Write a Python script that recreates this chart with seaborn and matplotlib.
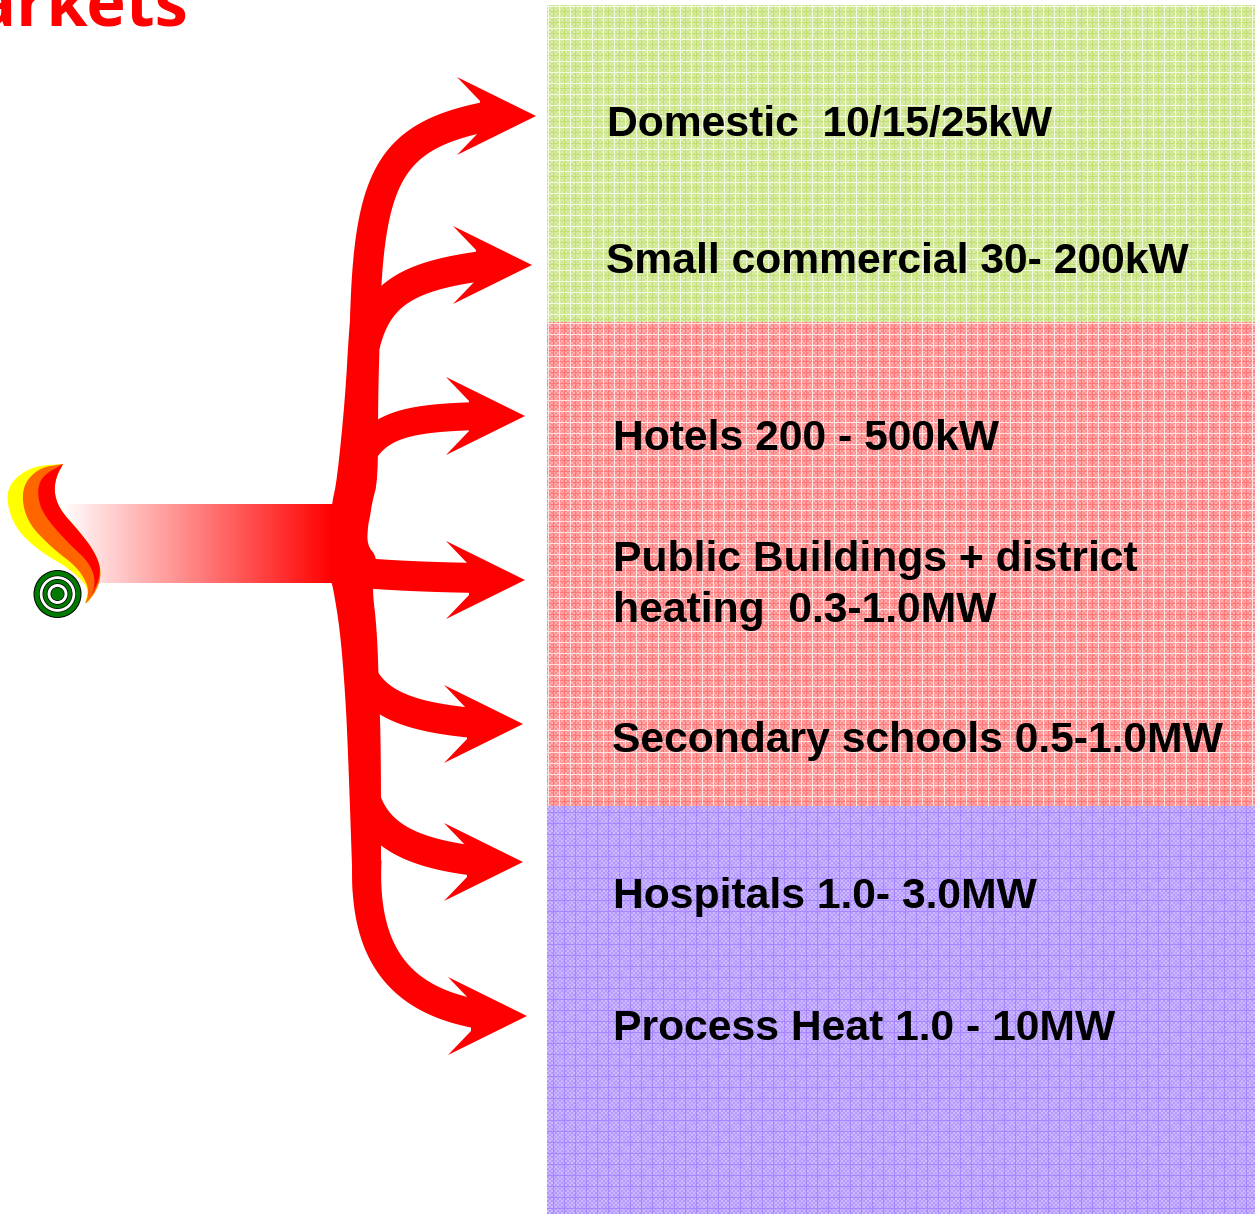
"""Biomass markets diagram: flame, red branching arrows, three market bands."""

import numpy as np
import matplotlib
matplotlib.use("Agg")
import matplotlib.pyplot as plt
from matplotlib.colors import LinearSegmentedColormap
from matplotlib.patches import Circle
import seaborn as sns

W, H = 1255, 1214

# market labels, first baseline
labels = [
    "Domestic  10/15/25kW",
    "Small commercial 30- 200kW",
    "Hotels 200 - 500kW",
    "Public Buildings + district",
    "heating  0.3-1.0MW",
    "Secondary schools 0.5-1.0MW",
    "Hospitals 1.0- 3.0MW",
    "Process Heat 1.0 - 10MW",
]
label_x = [607, 606, 613, 613, 613, 612, 613, 613]
label_y = [136, 273, 450, 571, 622, 752, 908, 1040]

# bands: top, bottom, colour of the weave, light or dark cross lines
band_top = [5, 322, 806]
band_bottom = [322, 806, 1214]
band_color = ["#a4d030", "#ff3030", "#7a48ff"]
band_light_lines = [True, True, False]

# arrow tips
tip_x = [536, 532, 525, 525, 523, 523, 527]
tip_y = [116, 265, 416, 580, 724, 862, 1016]
# shaft beziers: start, control 1, control 2, end
shaft_x = [
    [365, 369, 390, 490],
    [365, 378, 410, 490],
    [358, 376, 405, 480],
    [350, 385, 420, 480],
    [358, 372, 410, 485],
    [366, 380, 420, 485],
    [367, 362, 410, 490],
]
shaft_y = [
    [320, 175, 135, 116],
    [345, 292, 275, 265],
    [462, 425, 418, 416],
    [572, 575, 577, 578],
    [665, 705, 718, 724],
    [800, 840, 855, 862],
    [860, 965, 1005, 1016],
]
shaft_px = [30, 30, 28, 30, 30, 30, 29]

# main stem outline
stem_y = [300, 330, 400, 480, 503, 517, 525, 545, 557, 582, 587, 630, 690, 750, 895]
stem_left = [352, 349, 345, 337, 332, 331, 331, 331, 331, 331, 333, 340, 345, 348, 353]
stem_right = [380, 380, 378, 378, 372, 370, 368, 367, 377, 376, 372, 377, 379, 381, 381]

# flame, each outline starts at the tip
flame_colors = ["#ffff00", "#ff6600", "#ff0000"]
flame_x = [
    [63, 33, 11, 6, 15, 39, 67, 85, 88, 84, 96, 102, 95, 78, 60, 54, 56, 63],
    [63, 38, 21, 26, 52, 77, 88, 88, 84, 96, 102, 95, 78, 60, 54, 56, 63],
    [63, 42, 37, 42, 66, 90, 96, 90, 102, 95, 78, 60, 54, 56, 63],
]
flame_y = [
    [464, 466, 481, 500, 528, 551, 567, 583, 593, 606, 592, 573, 552, 530, 510, 493, 477, 464],
    [464, 468, 488, 521, 548, 567, 585, 597, 606, 592, 573, 552, 530, 510, 493, 477, 464],
    [464, 476, 492, 513, 541, 563, 583, 599, 573, 552, 530, 510, 493, 477, 464],
]

target_radius = [24, 23, 18.5, 17.8, 15, 14.3, 10.8, 10, 7, 6.3]
target_color = ["black", "#007a00", "black", "white", "black", "#007a00", "black", "white", "black", "#007a00"]


def bezier(px, py, n=60):
    t = np.linspace(0, 1, n)[:, None]
    pts = np.column_stack([px, py])
    return ((1 - t) ** 3 * pts[0] + 3 * (1 - t) ** 2 * t * pts[1]
            + 3 * (1 - t) * t ** 2 * pts[2] + t ** 3 * pts[3])


def chaikin(x, y, rounds=3):
    pts = np.column_stack([x, y]).astype(float)
    for _ in range(rounds):
        q = 0.75 * pts[:-1] + 0.25 * pts[1:]
        r = 0.25 * pts[:-1] + 0.75 * pts[1:]
        mid = np.empty((2 * len(q), 2))
        mid[0::2] = q
        mid[1::2] = r
        pts = np.vstack([pts[0], mid, pts[-1]])
    return pts[:, 0], pts[:, 1]


def weave(h, w, light_lines):
    """Pixel weave of the PowerPoint pattern fill."""
    yy, xx = np.mgrid[0:h, 0:w]
    v = 0.46 + 0.09 * (((xx // 2) + (yy // 2)) % 2 * 2 - 1)
    v = np.where((xx % 22 > 10) ^ (yy % 22 > 10), v + 0.03, v)
    v = np.where((xx % 11 == 6) | (yy % 11 == 6), 0.66, v)
    if light_lines:
        v = np.where((xx % 11 == 1) | (yy % 11 == 1), 0.14, v)
    return v


def pixel_axes(fig, left, top, right, bottom):
    return fig.add_axes([left / W, 1 - bottom / H, (right - left) / W, (bottom - top) / H])


def main():
    sns.set_theme(style="white")
    plt.rcParams["font.family"] = ["Liberation Sans", "DejaVu Sans"]

    fig = plt.figure(figsize=(W / 100, H / 100), dpi=100, facecolor="white")

    # coloured bands
    for top, bottom, color, light in zip(band_top, band_bottom, band_color, band_light_lines):
        ax_band = pixel_axes(fig, 547, top, W, bottom)
        cmap = LinearSegmentedColormap.from_list("band", ["white", color])
        sns.heatmap(weave(bottom - top, W - 547, light), ax=ax_band, cmap=cmap, vmin=0, vmax=1,
                    cbar=False, xticklabels=False, yticklabels=False)

    # fading bar out of the flame
    ax_bar = pixel_axes(fig, 60, 504, 334, 583)
    fade = LinearSegmentedColormap.from_list("fade", ["white", "#ff0000"])
    sns.heatmap(np.linspace(0, 1, 137)[None, :], ax=ax_bar, cmap=fade, vmin=0, vmax=1,
                cbar=False, xticklabels=False, yticklabels=False)

    ax = fig.add_axes([0, 0, 1, 1], zorder=5)
    ax.patch.set_alpha(0)

    # stem and branches
    left_x, left_y = chaikin(stem_left, stem_y, rounds=2)
    right_x, right_y = chaikin(stem_right, stem_y, rounds=2)
    ax.fill(np.r_[left_x, right_x[::-1]], np.r_[left_y, right_y[::-1]], color="#ff0000", lw=0)
    for sx, sy, px, tx, ty in zip(shaft_x, shaft_y, shaft_px, tip_x, tip_y):
        curve = bezier(sx, sy)
        sns.lineplot(x=curve[:, 0], y=curve[:, 1], ax=ax, sort=False, estimator=None,
                     color="#ff0000", linewidth=px * 0.72, solid_capstyle="butt")
        head_x = [tx, tx - 79, tx - 56, tx - 56, tx - 79]
        head_y = [ty, ty - 39, ty - 15, ty + 15, ty + 39]
        ax.fill(head_x, head_y, color="#ff0000", lw=0)

    # flame and target
    for fx, fy, color in zip(flame_x, flame_y, flame_colors):
        cx, cy = chaikin(fx, fy)
        ax.fill(cx, cy, color=color, lw=0)
    for r, color in zip(target_radius, target_color):
        ax.add_patch(Circle((57.5, 594), r, color=color, lw=0))

    for text, x, y in zip(labels, label_x, label_y):
        ax.text(x, y, text, fontsize=30.7, fontweight="bold", color="black", va="baseline", ha="left")

    # title is cut by the top edge of the slide
    ax.text(188, 26, "Markets", fontsize=48, color="#ff0000", ha="right", va="baseline",
            family=["Open Sans", "DejaVu Sans"], fontweight="bold")

    ax.set_xlim(0, W)
    ax.set_ylim(H, 0)
    ax.axis("off")
    fig.savefig("out.png", dpi=100)
    plt.close(fig)


if __name__ == "__main__":
    main()
